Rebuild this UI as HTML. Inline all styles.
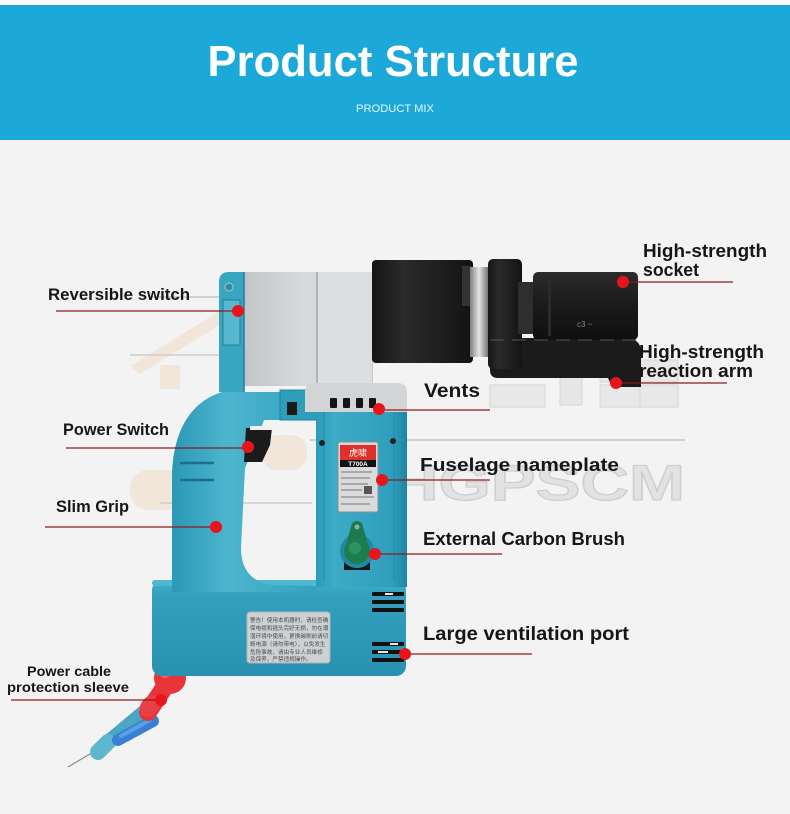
<!DOCTYPE html>
<html><head><meta charset="utf-8">
<style>
html,body{margin:0;padding:0;background:#f3f3f3;}
svg{display:block}
</style></head><body>
<svg width="790" height="814" viewBox="0 0 790 814" xmlns="http://www.w3.org/2000/svg">
<defs>
 <linearGradient id="blk" x1="0" y1="0" x2="0" y2="1">
  <stop offset="0" stop-color="#2c2c2c"/><stop offset="0.45" stop-color="#1b1b1b"/><stop offset="1" stop-color="#0f0f0f"/>
 </linearGradient>
 <linearGradient id="blkh" x1="0" y1="0" x2="1" y2="0">
  <stop offset="0" stop-color="#151515"/><stop offset="0.3" stop-color="#2a2a2a"/><stop offset="0.7" stop-color="#1e1e1e"/><stop offset="1" stop-color="#121212"/>
 </linearGradient>
 <linearGradient id="silver" x1="0" y1="0" x2="1" y2="0">
  <stop offset="0" stop-color="#c2c5c7"/><stop offset="0.5" stop-color="#d8dadb"/><stop offset="1" stop-color="#c7cacb"/>
 </linearGradient>
 <linearGradient id="ring" x1="0" y1="0" x2="1" y2="0">
   <stop offset="0" stop-color="#7e7e7e"/><stop offset="0.5" stop-color="#e4e4e4"/><stop offset="1" stop-color="#767676"/>
 </linearGradient>
 <linearGradient id="teal" x1="0" y1="0" x2="1" y2="0">
   <stop offset="0" stop-color="#2a98b6"/><stop offset="0.35" stop-color="#4db5ce"/><stop offset="1" stop-color="#2f9fbc"/>
 </linearGradient>
 <linearGradient id="base" x1="0" y1="0" x2="0" y2="1">
   <stop offset="0" stop-color="#46b1cb"/><stop offset="0.15" stop-color="#33a0be"/><stop offset="1" stop-color="#2891b1"/>
 </linearGradient>
 <linearGradient id="col" x1="0" y1="0" x2="1" y2="0">
   <stop offset="0" stop-color="#2c9cb9"/><stop offset="0.2" stop-color="#3eabc6"/><stop offset="0.85" stop-color="#2e9ebb"/><stop offset="1" stop-color="#1c85a2"/>
 </linearGradient>
</defs>

<rect width="790" height="814" fill="#f3f3f3"/>
<rect x="0" y="0" width="790" height="5" fill="#fafafa"/>
<rect x="0" y="5" width="790" height="135" fill="#1ca9da"/>
<text x="393" y="76" text-anchor="middle" font-family="Liberation Sans, sans-serif" font-weight="bold" font-size="44" fill="#ffffff" textLength="371" lengthAdjust="spacingAndGlyphs">Product Structure</text>
<text x="395" y="112" text-anchor="middle" font-family="Liberation Sans, sans-serif" font-size="11" fill="#e9f7fc" textLength="78" lengthAdjust="spacingAndGlyphs">PRODUCT MIX</text>

<!-- watermark (behind) -->
<g opacity="0.8">
 <polygon points="130,366 238,300 312,362 302,370 238,314 140,374" fill="#f2e3d6"/>
 <rect x="160" y="365" width="20" height="24" fill="#f2e3d6"/>
 <rect x="130" y="470" width="55" height="40" rx="18" fill="#f2e3d6"/>
 <rect x="262" y="435" width="45" height="35" rx="15" fill="#f2e3d6"/>
 <path d="M150,297 L326,297 Q334,297 334,305" stroke="#b9b9b9" stroke-width="1.5" fill="none"/>
 <path d="M130,355 L310,355" stroke="#c4c4c4" stroke-width="1.5" fill="none"/>
 <path d="M160,503 L312,503" stroke="#c4c4c4" stroke-width="1.5" fill="none"/>
 <line x1="310" y1="440" x2="685" y2="440" stroke="#9a9a9a" stroke-width="1"/>
 <text x="390" y="500" font-family="Liberation Sans, sans-serif" font-weight="bold" font-size="50" fill="#dedede" stroke="#c6c6c6" stroke-width="1.2" textLength="295" lengthAdjust="spacingAndGlyphs">HGPSCM</text>
 <rect x="560" y="360" width="22" height="45" fill="#e3e3e3" stroke="#cfcfcf"/>
 <path d="M600,360 h40 v22 h-40 z M600,385 h40 v22 h-40 z" fill="#e6e6e6" stroke="#cfcfcf"/>
 <path d="M640,360 h38 v22 h-38 z M640,385 h38 v22 h-38 z" fill="#e6e6e6" stroke="#cfcfcf"/>
 <rect x="490" y="385" width="55" height="22" fill="#e6e6e6" stroke="#cfcfcf"/>
</g>

<!-- cable -->
<line x1="68" y1="767" x2="100" y2="748" stroke="#8a8a8a" stroke-width="1.2"/>
<line x1="100" y1="748" x2="150" y2="706" stroke="#4aa6c2" stroke-width="13" stroke-linecap="round"/>
<line x1="98" y1="752" x2="108" y2="742" stroke="#5fb6cf" stroke-width="16" stroke-linecap="round"/>
<line x1="118" y1="740" x2="153" y2="721" stroke="#3a80d2" stroke-width="12" stroke-linecap="round"/>
<line x1="121" y1="736" x2="150" y2="720" stroke="#5aa0e8" stroke-width="4" stroke-linecap="round"/>
<line x1="148" y1="712" x2="168" y2="682" stroke="#e3343a" stroke-width="18" stroke-linecap="round"/>
<ellipse cx="150" cy="706" rx="12" ry="9" fill="#e84045" transform="rotate(-50 150 706)"/>
<circle cx="170" cy="678" r="16" fill="#e8353a"/>
<circle cx="165" cy="672" r="6" fill="#f06066"/>

<!-- base -->
<rect x="152" y="580" width="254" height="96" rx="10" fill="url(#base)"/>
<rect x="152" y="580" width="254" height="6" rx="3" fill="#4fb7cf"/>
<rect x="247" y="612" width="83" height="51" rx="3" fill="#cdd1d3" stroke="#b0b4b6" stroke-width="1"/>
<g font-family="Liberation Sans, Noto Sans CJK SC, sans-serif" font-size="5.6" fill="#4a4a4a">
 <text x="250" y="622">警告！使用本机器时，请检查确</text>
 <text x="250" y="630">保电缆和插头完好无损，勿在潮</text>
 <text x="250" y="638">湿环境中使用，更换碳刷前请切</text>
 <text x="250" y="646">断电源（请勿带电），以免发生</text>
 <text x="250" y="654">危险事故，请由专业人员维修</text>
 <text x="250" y="661">及保养，严禁违规操作。</text>
</g>
<!-- large vent slots -->
<g fill="#111">
 <rect x="372" y="592" width="32" height="4" rx="1"/>
 <rect x="372" y="600" width="32" height="4" rx="1"/>
 <rect x="372" y="608" width="32" height="4" rx="1"/>
 <rect x="372" y="642" width="32" height="4" rx="1"/>
 <rect x="372" y="650" width="32" height="4" rx="1"/>
 <rect x="372" y="658" width="32" height="4" rx="1"/>
</g>
<g fill="#e8e8e8">
 <rect x="385" y="593" width="8" height="2"/><rect x="378" y="651" width="10" height="2"/><rect x="390" y="643" width="8" height="2"/>
</g>

<!-- handle -->
<path d="M172,592 L172,480 C172,432 190,402 222,392 L330,392 L330,420 L264,420 C257,440 251,455 245,468 L241,548 C241,570 252,582 272,585 L316,586 L316,592 Z" fill="url(#teal)"/>
<rect x="280" y="390" width="50" height="30" fill="#2f9ebb" stroke="#1e84a0" stroke-width="1"/>
<rect x="287" y="402" width="10" height="13" fill="#1a1a1a"/>
<line x1="180" y1="463" x2="214" y2="463" stroke="#1c6f86" stroke-width="2.5"/>
<line x1="180" y1="480" x2="214" y2="480" stroke="#1c6f86" stroke-width="2.5"/>
<!-- trigger -->
<path d="M246,428 L272,428 L270,445 L262,462 L244,462 Z" fill="#1b1b1b"/>
<rect x="250" y="426" width="22" height="4" fill="#f0f0f0"/>

<!-- column -->
<rect x="316" y="405" width="91" height="182" fill="url(#col)"/>
<line x1="324" y1="412" x2="324" y2="580" stroke="#1f8aa6" stroke-width="1"/>
<line x1="394" y1="412" x2="394" y2="580" stroke="#1f8aa6" stroke-width="1"/>
<circle cx="322" cy="443" r="3" fill="#222"/>
<circle cx="393" cy="441" r="3" fill="#222"/>
<!-- nameplate -->
<rect x="338" y="442" width="40" height="70" rx="2" fill="#d8dadb" stroke="#8c8f91" stroke-width="1"/>
<rect x="340" y="445" width="36" height="15" fill="#e0302a"/>
<text x="358" y="456" text-anchor="middle" font-family="Noto Sans CJK SC, sans-serif" font-size="9" fill="#fff">虎啸</text>
<rect x="340" y="460" width="36" height="7" fill="#111"/>
<text x="358" y="466" text-anchor="middle" font-family="Liberation Sans, sans-serif" font-weight="bold" font-size="6.5" fill="#fff">T700A</text>
<g stroke="#777" stroke-width="1">
 <line x1="341" y1="472" x2="372" y2="472"/><line x1="341" y1="478" x2="370" y2="478"/>
 <line x1="341" y1="484" x2="368" y2="484"/><line x1="341" y1="490" x2="362" y2="490"/>
 <line x1="341" y1="497" x2="374" y2="497"/><line x1="341" y1="504" x2="370" y2="504"/>
</g>
<rect x="364" y="486" width="8" height="8" fill="#555"/>
<!-- carbon brush -->
<rect x="344" y="562" width="26" height="8" fill="#1a1a1a"/>
<circle cx="357" cy="551" r="17" fill="#1f8aa6"/>
<path d="M351,527 L363,527 L369,548 L345,548 Z" fill="#1d7a4c"/>
<circle cx="357" cy="527" r="6" fill="#1d7a4c"/>
<circle cx="357" cy="527" r="2.5" fill="#9aa"/>
<circle cx="357" cy="551" r="13" fill="#1e7d4e"/>
<circle cx="355" cy="548" r="6" fill="#2c9460"/>

<!-- upper head -->
<rect x="242" y="272" width="131" height="114" fill="url(#silver)"/>
<rect x="316" y="272" width="2" height="112" fill="#b1b4b6"/>
<rect x="318" y="272" width="54" height="112" fill="#dcdedf"/>
<path d="M219,392 L219,282 Q219,272 229,272 L244,272 L244,392 Z" fill="#39a6c1"/>
<rect x="223" y="300" width="17" height="45" fill="#58b8ce" stroke="#1f7f98" stroke-width="1"/>
<circle cx="229" cy="287" r="4" fill="#2a8ca6" stroke="#9bb" stroke-width="1.2"/>
<line x1="244" y1="272" x2="244" y2="392" stroke="#1f7f98" stroke-width="1.5"/>
<!-- vents block -->
<path d="M305,412 L305,392 Q305,383 314,383 L397,383 Q407,383 407,392 L407,412 Z" fill="#d2d4d5"/>
<g fill="#151515">
 <rect x="330" y="398" width="7" height="10" rx="1"/>
 <rect x="343" y="398" width="7" height="10" rx="1"/>
 <rect x="356" y="398" width="7" height="10" rx="1"/>
 <rect x="369" y="398" width="7" height="10" rx="1"/>
</g>

<!-- black cylinder / socket / arm -->
<rect x="372" y="260" width="101" height="103" rx="4" fill="url(#blkh)"/>
<rect x="462" y="266" width="10" height="40" fill="#333"/>
<rect x="470" y="267" width="18" height="90" fill="url(#ring)"/>
<path d="M490,338 L628,338 Q641,340 641,352 L641,387 L612,387 L608,378 L498,378 Q490,378 490,370 Z" fill="#1b1b1b"/>
<rect x="488" y="259" width="34" height="110" rx="5" fill="url(#blkh)"/>
<rect x="518" y="282" width="18" height="52" fill="#2e2e2e"/>
<rect x="533" y="272" width="105" height="68" rx="5" fill="url(#blk)"/>
<rect x="548" y="276" width="3" height="60" fill="#2a2a2a"/>
<text x="577" y="327" font-family="Liberation Sans, sans-serif" font-size="8" fill="#888">c3 ~</text>
<line x1="490" y1="340" x2="640" y2="340" stroke="#555" stroke-width="1" stroke-dasharray="14 8"/>

<!-- connector lines -->
<g stroke="#8e1b1b" stroke-width="1.3">
 <line x1="56" y1="311" x2="238" y2="311"/>
 <line x1="66" y1="448" x2="248" y2="448"/>
 <line x1="45" y1="527" x2="216" y2="527"/>
 <line x1="623" y1="282" x2="733" y2="282"/>
 <line x1="616" y1="383" x2="727" y2="383"/>
 <line x1="379" y1="410" x2="490" y2="410"/>
 <line x1="382" y1="480" x2="490" y2="480"/>
 <line x1="375" y1="554" x2="502" y2="554"/>
 <line x1="405" y1="654" x2="532" y2="654"/>
 <line x1="11" y1="700" x2="161" y2="700"/>
</g>
<g fill="#e8141c">
 <circle cx="238" cy="311" r="6"/>
 <circle cx="248" cy="447" r="6"/>
 <circle cx="216" cy="527" r="6"/>
 <circle cx="623" cy="282" r="6"/>
 <circle cx="616" cy="383" r="6"/>
 <circle cx="379" cy="409" r="6"/>
 <circle cx="382" cy="480" r="6"/>
 <circle cx="375" cy="554" r="6"/>
 <circle cx="405" cy="654" r="6"/>
 <circle cx="161" cy="700" r="6"/>
</g>

<!-- labels -->
<g font-family="Liberation Sans, sans-serif" font-weight="bold" fill="#161616">
 <text x="48" y="300" font-size="17" textLength="142" lengthAdjust="spacingAndGlyphs">Reversible switch</text>
 <text x="63" y="435" font-size="17" textLength="106" lengthAdjust="spacingAndGlyphs">Power Switch</text>
 <text x="56" y="512" font-size="17" textLength="73" lengthAdjust="spacingAndGlyphs">Slim Grip</text>
 <text x="643" y="257" font-size="18" textLength="124" lengthAdjust="spacingAndGlyphs">High-strength</text>
 <text x="643" y="276" font-size="18" textLength="56" lengthAdjust="spacingAndGlyphs">socket</text>
 <text x="639" y="358" font-size="18" textLength="125" lengthAdjust="spacingAndGlyphs">High-strength</text>
 <text x="639" y="377" font-size="18" textLength="114" lengthAdjust="spacingAndGlyphs">reaction arm</text>
 <text x="424" y="397" font-size="19" textLength="56" lengthAdjust="spacingAndGlyphs">Vents</text>
 <text x="420" y="471" font-size="18" textLength="199" lengthAdjust="spacingAndGlyphs">Fuselage nameplate</text>
 <text x="423" y="545" font-size="18" textLength="202" lengthAdjust="spacingAndGlyphs">External Carbon Brush</text>
 <text x="423" y="640" font-size="19" textLength="206" lengthAdjust="spacingAndGlyphs">Large ventilation port</text>
 <text x="27" y="676" font-size="14" textLength="84" lengthAdjust="spacingAndGlyphs">Power cable</text>
 <text x="7" y="692" font-size="14" textLength="122" lengthAdjust="spacingAndGlyphs">protection sleeve</text>
</g>
</svg>
</body></html>
